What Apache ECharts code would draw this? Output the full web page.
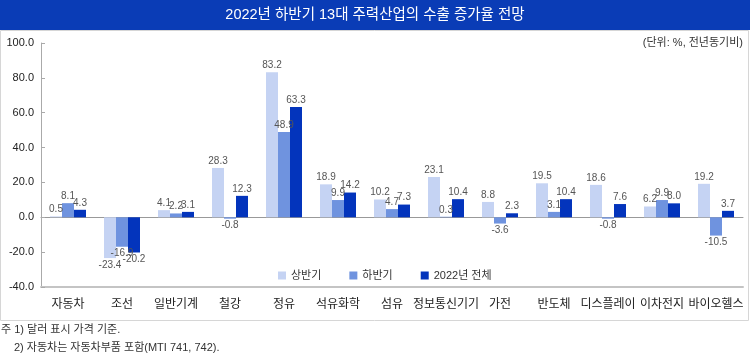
<!DOCTYPE html>
<html><head><meta charset="utf-8">
<script src="https://cdn.jsdelivr.net/npm/echarts@6/dist/echarts.min.js"></script>
<style>html,body{margin:0;padding:0;background:#fff}#c{width:750px;height:355px}</style>
</head><body><div id="c"></div>
<script>
var categories = ['자동차','조선','일반기계','철강','정유','석유화학','섬유','정보통신기기','가전','반도체','디스플레이','이차전지','바이오헬스'];
var firstHalf = [0.5,-23.4,4.1,28.3,83.2,18.9,10.2,23.1,8.8,19.5,18.6,6.2,19.2];
var secondHalf = [8.1,-16.9,2.2,-0.8,48.9,9.9,4.7,0.3,-3.6,3.1,-0.8,9.9,-10.5];
var fullYear = [4.3,-20.2,3.1,12.3,63.3,14.2,7.3,10.4,2.3,10.4,7.6,8.0,3.7];
var seriesNames = ['상반기','하반기','2022년 전체'];
var yTicks = {min:-40, max:100, interval:20};
var FONT = "'Liberation Sans', 'Noto Sans CJK KR', sans-serif";
var colors = ['#C5D3F3','#6F93DF','#0334BC'];
var chart = echarts.init(document.getElementById('c'));
function mk(name, data, color){
  return {name:name, type:'bar', barWidth:12, barGap:'0%',
    itemStyle:{color:color},
    label:{show:true, position:'top', distance:2, fontSize:10, color:'#555', fontFamily:FONT,
      formatter:function(p){return p.value.toFixed(1);}},
    data:data.map(function(v){ return {value:v, label:{position: v<0 ? 'bottom':'top'}}; })
  };
}
var series = [mk(seriesNames[0], firstHalf, colors[0]), mk(seriesNames[1], secondHalf, colors[1]), mk(seriesNames[2], fullYear, colors[2])];
chart.setOption({
  animation:false,
  textStyle:{fontFamily:FONT},
  graphic:[
    {type:'rect', shape:{x:0,y:0,width:750,height:30}, style:{fill:'#0A3CB6'}, silent:true},
    {type:'rect', shape:{x:0.5,y:30.5,width:748,height:290}, style:{fill:'none', stroke:'#d6d6d6', lineWidth:1}, silent:true},
    {type:'text', x:375, y:15, style:{text:'2022년 하반기 13대 주력산업의 수출 증가율 전망', fill:'#fff', fontSize:14.5, fontFamily:FONT, align:'center', verticalAlign:'middle'}},
    {type:'text', x:743, y:43, style:{text:'(단위: %, 전년동기비)', fill:'#333', fontSize:11, fontFamily:FONT, align:'right', verticalAlign:'middle'}},
    {type:'text', x:1, y:330, style:{text:'주 1) 달러 표시 가격 기준.', fill:'#333', fontSize:11, fontFamily:FONT, align:'left', verticalAlign:'middle'}},
    {type:'text', x:14, y:348, style:{text:'2) 자동차는 자동차부품 포함(MTI 741, 742).', fill:'#333', fontSize:11, fontFamily:FONT, align:'left', verticalAlign:'middle'}}
  ],
  legend:{data:seriesNames, left:273, top:265, itemWidth:8, itemHeight:8, itemGap:28, icon:'rect',
    textStyle:{fontSize:11, color:'#333', fontFamily:FONT}},
  grid:{left:41, right:7, top:43, bottom:68},
  xAxis:[{type:'category', data:categories, axisLine:{onZero:false, lineStyle:{color:'#c4c4c4', width:2}},
    axisTick:{show:false}, axisLabel:{fontSize:12, color:'#222', margin:12, fontFamily:FONT, interval:0}},
    {type:'category', data:categories, position:'bottom', axisLine:{onZero:true, lineStyle:{color:'#999', width:1}},
    axisTick:{show:false}, axisLabel:{show:false}}],
  yAxis:{type:'value', min:yTicks.min, max:yTicks.max, interval:yTicks.interval,
    axisLine:{show:true, lineStyle:{color:'#aaa'}}, axisTick:{show:true, inside:true, length:4, lineStyle:{color:'#aaa'}},
    splitLine:{show:false},
    axisLabel:{fontSize:11, color:'#222', margin:7, fontFamily:FONT, formatter:function(v){return v.toFixed(1);}}},
  series:series
});
</script></body></html>
